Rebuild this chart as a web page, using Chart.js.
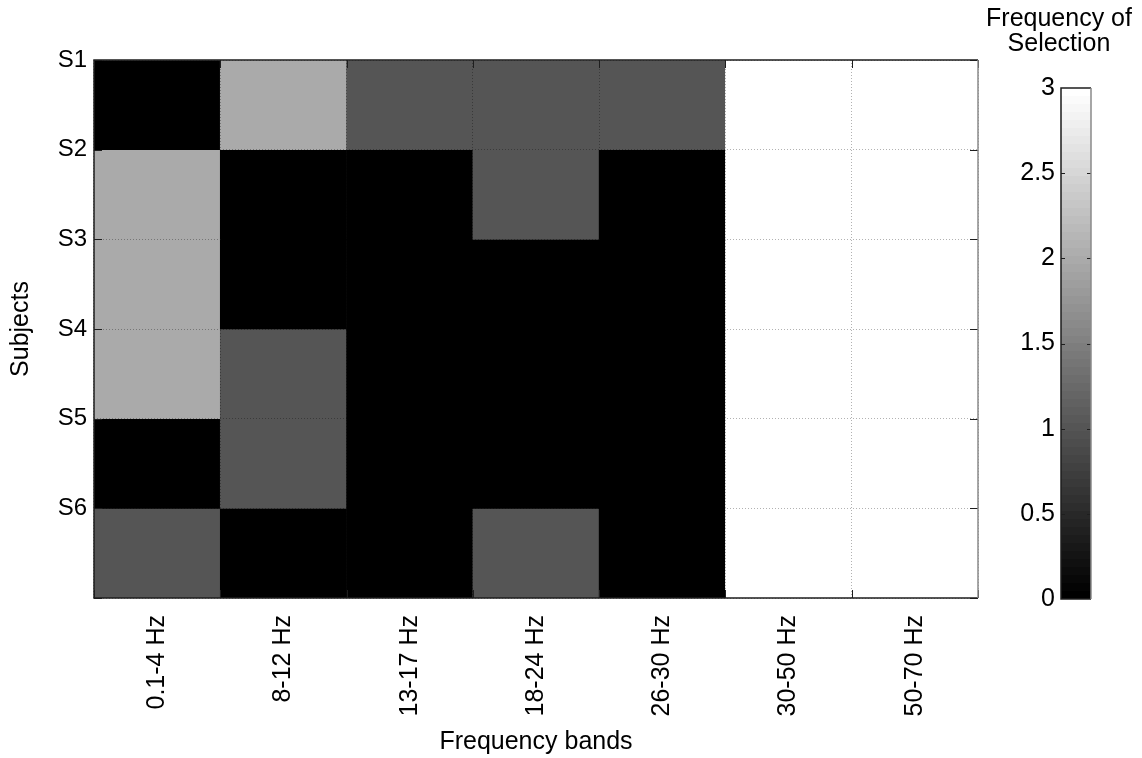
<!DOCTYPE html>
<html>
<head>
<meta charset="utf-8">
<script src="https://cdn.jsdelivr.net/npm/chart.js@4.4.1/dist/chart.umd.min.js"></script>
<style>
  html, body { margin: 0; padding: 0; background: #fff; overflow: hidden; }
  #wrap { position: relative; width: 1142px; height: 758px; overflow: hidden; }
  #main { position: absolute; left: 0; top: 0; }
  #bar { position: absolute; left: 956px; top: 0; }
</style>
</head>
<body>
<div id="wrap">
  <canvas id="main" width="1142" height="758"></canvas>
  <canvas id="bar" width="206" height="758"></canvas>
</div>
<script>
// Frequency bands (columns) and subjects (rows)
const bands = ['0.1-4 Hz', '8-12 Hz', '13-17 Hz', '18-24 Hz', '26-30 Hz', '30-50 Hz', '50-70 Hz'];
const subjects = ['S1', 'S2', 'S3', 'S4', 'S5', 'S6'];

// Frequency of selection per subject, one value per band
const s1 = [0, 2, 1, 1, 1, 3, 3];
const s2 = [2, 0, 0, 1, 0, 3, 3];
const s3 = [2, 0, 0, 0, 0, 3, 3];
const s4 = [2, 1, 0, 0, 0, 3, 3];
const s5 = [0, 1, 0, 0, 0, 3, 3];
const s6 = [1, 0, 0, 1, 0, 3, 3];
const rows = [s1, s2, s3, s4, s5, s6];

// Colour scale limits and colour bar ticks
const colorMin = 0;
const colorMax = 3;
const colorTicks = [0, 0.5, 1, 1.5, 2, 2.5, 3];
const colorLevels = 64;

const FONT = 'Arial, "Liberation Sans", Helvetica, sans-serif';
const TXT = '#000';

function grayFor(v) {
  const t = Math.max(0, Math.min(1, (v - colorMin) / (colorMax - colorMin)));
  const g = Math.round(t * 255);
  return `rgb(${g},${g},${g})`;
}

// Frame and inward tick marks around the heat map
const framePlugin = {
  id: 'frame',
  afterDraw(chart) {
    const { ctx, chartArea: a, scales: { x, y } } = chart;
    ctx.save();
    ctx.lineWidth = 1;
    ctx.strokeStyle = '#1e1e1e';
    const tl = 8;
    ctx.beginPath();
    for (let i = 0; i <= bands.length; i++) {
      const px = Math.round(x.getPixelForValue(i - 0.5)) + 0.5;
      ctx.moveTo(px, a.bottom); ctx.lineTo(px, a.bottom - tl);
      ctx.moveTo(px, a.top); ctx.lineTo(px, a.top + tl);
    }
    for (let j = 0; j <= subjects.length; j++) {
      const py = Math.round(y.getPixelForValue(j)) + 0.5;
      ctx.moveTo(a.left, py); ctx.lineTo(a.left + tl, py);
      ctx.moveTo(a.right, py); ctx.lineTo(a.right - tl, py);
    }
    ctx.stroke();
    ctx.lineWidth = 1.5;
    ctx.beginPath();
    ctx.moveTo(a.right, a.top); ctx.lineTo(a.left, a.top);
    ctx.lineTo(a.left, a.bottom); ctx.lineTo(a.right, a.bottom);
    ctx.stroke();
    ctx.strokeStyle = '#8a8a8a';
    ctx.beginPath();
    ctx.moveTo(a.right, a.top); ctx.lineTo(a.right, a.bottom);
    ctx.stroke();
    ctx.restore();
  }
};

const gridStyle = { color: 'rgba(0,0,0,0.3)', lineWidth: 1, drawTicks: false, z: 1 };

new Chart(document.getElementById('main'), {
  type: 'bar',
  data: {
    labels: bands,
    datasets: rows.map((vals, i) => ({
      label: subjects[i],
      data: vals.map(() => [i, i + 1]),
      backgroundColor: vals.map(grayFor),
      borderWidth: 0,
      barPercentage: 1,
      categoryPercentage: 1,
      grouped: false
    }))
  },
  options: {
    responsive: false,
    animation: false,
    devicePixelRatio: 1,
    layout: { padding: { left: 0, top: 60, right: 164, bottom: 0 } },
    plugins: { legend: { display: false }, tooltip: { enabled: false } },
    scales: {
      x: {
        type: 'category',
        offset: true,
        afterFit(s) { s.height = 160; },
        grid: Object.assign({ offset: true }, gridStyle),
        border: { display: false, dash: [1, 2] },
        ticks: {
          minRotation: 90, maxRotation: 90, autoSkip: false,
          padding: 17, color: TXT,
          font: { family: FONT, size: 25 }
        },
        title: {
          display: true, text: 'Frequency bands', color: TXT,
          font: { family: FONT, size: 25 }, padding: { top: 0, bottom: 1 }
        }
      },
      y: {
        type: 'linear',
        min: 0, max: subjects.length,
        reverse: true,
        afterFit(s) { s.width = 94; },
        grid: gridStyle,
        border: { display: false, dash: [1, 2] },
        ticks: {
          stepSize: 1, padding: 7, color: TXT,
          font: { family: FONT, size: 24 },
          callback: (v) => subjects[v] !== undefined ? subjects[v] : ''
        },
        title: {
          display: true, text: 'Subjects', color: TXT,
          font: { family: FONT, size: 25 }, padding: { top: 6, bottom: 0 }
        }
      }
    }
  },
  plugins: [framePlugin]
});

// Colour bar: stepped gray colour map from colorMin to colorMax
function steppedGradient(ctx, area) {
  const g = ctx.createLinearGradient(0, area.bottom, 0, area.top);
  for (let k = 0; k < colorLevels; k++) {
    const lv = Math.round(k / (colorLevels - 1) * 255);
    const c = `rgb(${lv},${lv},${lv})`;
    g.addColorStop(k / colorLevels, c);
    g.addColorStop((k + 1) / colorLevels, c);
  }
  return g;
}

const barFrame = {
  id: 'barFrame',
  afterDraw(chart) {
    const { ctx, chartArea: a, scales: { y } } = chart;
    ctx.save();
    ctx.lineWidth = 1;
    ctx.strokeStyle = '#1e1e1e';
    ctx.beginPath();
    colorTicks.forEach(t => {
      if (t === colorMin || t === colorMax) return;
      const py = Math.round(y.getPixelForValue(t)) + 0.5;
      ctx.moveTo(a.left, py); ctx.lineTo(a.left + 4, py);
      ctx.moveTo(a.right, py); ctx.lineTo(a.right - 4, py);
    });
    ctx.stroke();
    ctx.lineWidth = 1.5;
    ctx.beginPath();
    ctx.moveTo(a.right, a.top); ctx.lineTo(a.left, a.top);
    ctx.lineTo(a.left, a.bottom); ctx.lineTo(a.right, a.bottom);
    ctx.stroke();
    ctx.strokeStyle = '#8a8a8a';
    ctx.beginPath();
    ctx.moveTo(a.right, a.top); ctx.lineTo(a.right, a.bottom);
    ctx.stroke();
    ctx.restore();
  }
};

const TITLE_SIZE = 25;
const TITLE_LH = 0.98;
const TITLE_TOP = 7;
new Chart(document.getElementById('bar'), {
  type: 'bar',
  data: {
    labels: [''],
    datasets: [{
      data: [[colorMin, colorMax]],
      backgroundColor: (c) => {
        const area = c.chart.chartArea;
        return area ? steppedGradient(c.chart.ctx, area) : '#888';
      },
      borderWidth: 0,
      barPercentage: 1,
      categoryPercentage: 1
    }]
  },
  options: {
    responsive: false,
    animation: false,
    devicePixelRatio: 1,
    layout: { padding: { left: 0, top: 0, right: 0, bottom: 159 } },
    plugins: {
      legend: { display: false },
      tooltip: { enabled: false },
      title: {
        display: true,
        text: ['Frequency of', 'Selection'],
        color: TXT,
        font: { family: FONT, size: TITLE_SIZE, lineHeight: TITLE_LH, weight: 'normal' },
        padding: { top: TITLE_TOP, bottom: 88 - TITLE_TOP - 2 * TITLE_SIZE * TITLE_LH }
      }
    },
    scales: {
      x: { display: false },
      y: {
        min: colorMin, max: colorMax,
        afterFit(s) { s.width = 105; },
        afterBuildTicks(s) { s.ticks = colorTicks.map(v => ({ value: v })); },
        grid: { display: false, drawTicks: false },
        border: { display: false },
        ticks: {
          padding: 6, color: TXT,
          font: { family: FONT, size: 25 },
          callback: (v) => String(v)
        }
      },
      // empty right-hand axis that only reserves the space beside the bar
      yRight: {
        position: 'right',
        min: colorMin, max: colorMax,
        afterFit(s) { s.width = 71; },
        grid: { display: false, drawTicks: false },
        border: { display: false },
        ticks: { display: false }
      }
    }
  },
  plugins: [barFrame]
});
</script>
</body>
</html>
